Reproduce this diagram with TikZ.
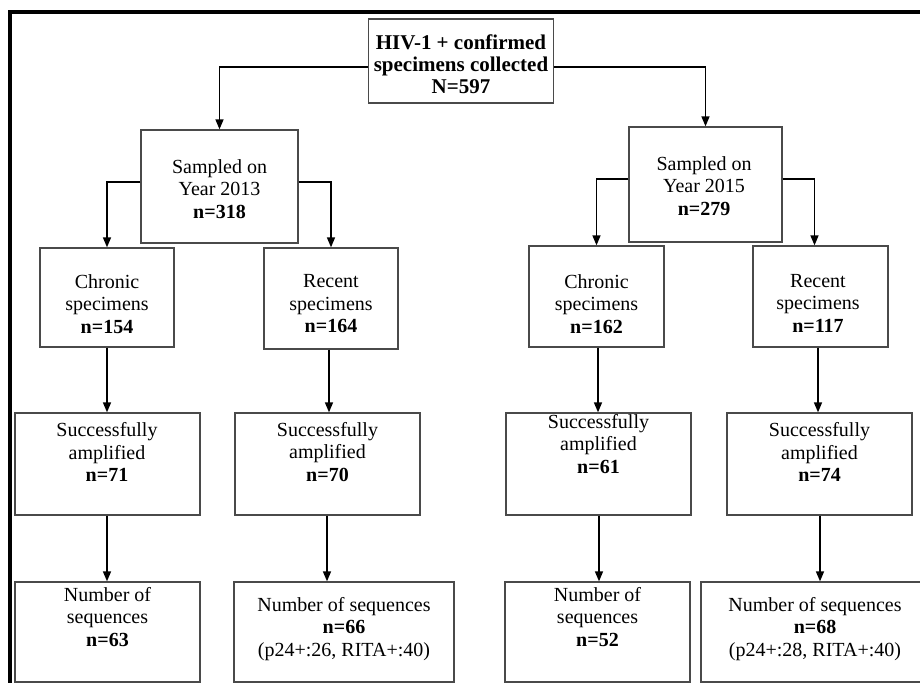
\documentclass[tikz,border=0pt]{standalone}
\usepackage{fontspec}
\setmainfont{Liberation Serif}
\usetikzlibrary{arrows.meta}
\definecolor{boxgray}{HTML}{4A4A4A}
\begin{document}
\begin{tikzpicture}[x=1pt,y=-1pt,
  box/.style={draw=boxgray, line width=1.3pt, inner sep=0pt, fill=none},
  txt/.style={align=center, inner sep=0pt, font=\fontsize{20}{22.5}\selectfont},
  toptxt/.style={align=center, inner sep=0pt, font=\fontsize{21}{22}\selectfont\bfseries},
  arr/.style={draw=black, line width=1.5pt, -{Triangle[length=10pt,width=8pt]}}
]
\useasboundingbox (0,0) rectangle (920,683);
\clip (0,0) rectangle (920,683);
% frame
\fill[black] (8,10) rectangle (920,14);
\fill[black] (8,10) rectangle (12,683);

% boxes
\node[box, minimum width=185pt, minimum height=84pt] (top) at (461,61) {};
\node[box, minimum width=157pt, minimum height=113pt] (y13) at (219.5,186.5) {};
\node[box, minimum width=153pt, minimum height=115pt] (y15) at (705.5,184.5) {};
\node[box, minimum width=134pt, minimum height=99pt] (c13) at (107,297.5) {};
\node[box, minimum width=134pt, minimum height=101pt] (r13) at (331,298.5) {};
\node[box, minimum width=135pt, minimum height=101pt] (c15) at (596.5,296.5) {};
\node[box, minimum width=135pt, minimum height=101pt] (r15) at (820.5,296.5) {};
\node[box, minimum width=185pt, minimum height=102pt] (s1) at (107.5,464) {};
\node[box, minimum width=185pt, minimum height=102pt] (s2) at (327.5,464) {};
\node[box, minimum width=185pt, minimum height=102pt] (s3) at (598.5,464) {};
\node[box, minimum width=185pt, minimum height=102pt] (s4) at (819.5,464) {};
\node[box, minimum width=185pt, minimum height=100pt] (n1) at (107.5,632) {};
\node[box, minimum width=220pt, minimum height=100pt] (n2) at (344,632) {};
\node[box, minimum width=185pt, minimum height=100pt] (n3) at (597.5,632) {};
\node[box, minimum width=220pt, minimum height=100pt] (n4) at (811,632) {};

% texts
\node[toptxt] (ttop) at (461,64) {HIV-1 + confirmed\\specimens collected\\N=597};
\node[txt] (ty13) at (219.5,189) {Sampled on\\Year 2013\\\textbf{n=318}};
\node[txt] (ty15) at (704,186) {Sampled on\\Year 2015\\\textbf{n=279}};
\node[txt] (tc13) at (107,304) {Chronic\\specimens\\\textbf{n=154}};
\node[txt] (tr13) at (331,304) {Recent\\specimens\\\textbf{n=164}};
\node[txt] (tc15) at (596.5,304) {Chronic\\specimens\\\textbf{n=162}};
\node[txt] (tr15) at (818,303) {Recent\\specimens\\\textbf{n=117}};
\node[txt] (ts1) at (107,452) {Successfully\\amplified\\\textbf{n=71}};
\node[txt] (ts2) at (327.5,452) {Successfully\\amplified\\\textbf{n=70}};
\node[txt] (ts3) at (598.5,444) {Successfully\\amplified\\\textbf{n=61}};
\node[txt] (ts4) at (819.5,452) {Successfully\\amplified\\\textbf{n=74}};
\node[txt] (tn1) at (107.5,617) {Number of\\sequences\\\textbf{n=63}};
\node[txt] (tn2) at (344,629) {Number of sequences\\\textbf{n=66}\\(p24+:26, RITA+:40)};
\node[txt] (tn3) at (597.5,617) {Number of\\sequences\\\textbf{n=52}};
\node[txt] (tn4) at (815,629) {Number of sequences\\\textbf{n=68}\\(p24+:28, RITA+:40)};

% connectors
\draw[arr] ([yshift=-6pt]top.west) -| (y13.north);
\draw[arr] ([yshift=-6pt]top.east) -| (y15.north);
\draw[arr] ([yshift=4.5pt]y13.west) -| (c13.north);
\draw[arr] ([yshift=4.5pt]y13.east) -| (r13.north);
\draw[arr] ([yshift=5.5pt]y15.west) -| (c15.north);
\draw[arr] ([yshift=5.5pt]y15.east) -| ([xshift=-6pt]r15.north);
\draw[arr] (c13.south) -- (c13.south |- s1.north);
\draw[arr] ([xshift=-2pt]r13.south) -- ([xshift=-2pt]r13.south |- s2.north);
\draw[arr] ([xshift=1.5pt]c15.south) -- ([xshift=1.5pt]c15.south |- s3.north);
\draw[arr] ([xshift=-2.5pt]r15.south) -- ([xshift=-2.5pt]r15.south |- s4.north);
\draw[arr] ([xshift=-0.5pt]s1.south) -- ([xshift=-0.5pt]s1.south |- n1.north);
\draw[arr] ([xshift=-0.5pt]s2.south) -- ([xshift=-0.5pt]s2.south |- n2.north);
\draw[arr] ([xshift=0.5pt]s3.south) -- ([xshift=0.5pt]s3.south |- n3.north);
\draw[arr] ([xshift=0.5pt]s4.south) -- ([xshift=0.5pt]s4.south |- n4.north);
\end{tikzpicture}
\end{document}
